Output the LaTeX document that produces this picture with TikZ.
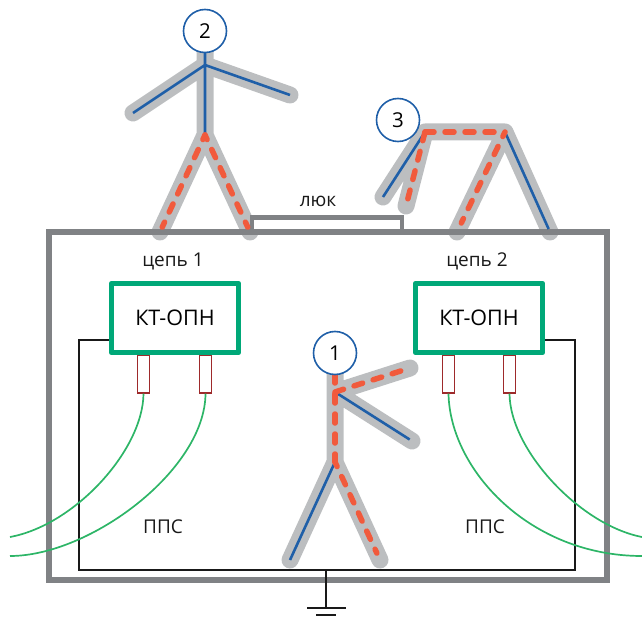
\documentclass[tikz,border=0pt]{standalone}
\usepackage{fontspec}
\usetikzlibrary{calc}
\setmainfont{Open Sans}
\definecolor{limbgrey}{HTML}{BCBEC0}
\definecolor{framegrey}{HTML}{808285}
\definecolor{wireblue}{HTML}{1F5FA8}
\definecolor{wirered}{HTML}{F15A3C}
\definecolor{boxgreen}{HTML}{00A878}
\definecolor{cablegreen}{HTML}{2DB567}
\definecolor{stubred}{HTML}{9E2A2B}
\tikzset{
  limb/.style={draw=limbgrey,line width=17pt,line cap=round,line join=round},
  bluewire/.style={draw=wireblue,line width=2.6pt},
  redwire/.style={draw=wirered,line width=5.5pt,line cap=round,dash pattern=on 9pt off 11pt},
  redleg/.style={redwire,dash phase=4pt},
  headcirc/.style={circle,draw=wireblue,fill=white,line width=1.6pt,minimum size=43pt,inner sep=0pt,font=\fontsize{20.5}{22}\selectfont},
  framebox/.style={draw=framegrey,line width=5.5pt,line join=miter},
  ktbox/.style={draw=boxgreen,line width=5.5pt,fill=white,minimum width=127pt,minimum height=69pt,inner sep=0pt,line join=round,font=\fontsize{21.5}{23}\selectfont},
  stub/.style={draw=stubred,fill=white,line width=1.7pt,minimum width=12pt,minimum height=38pt,inner sep=0pt},
  cable/.style={draw=cablegreen,line width=1.7pt},
  bond/.style={draw=black!90,line width=1.6pt},
  lab/.style={inner sep=0pt,font=\fontsize{19}{21}\selectfont,text=black!90}
}
\begin{document}
\begin{tikzpicture}[x=1pt,y=-1pt]
\useasboundingbox (0,0) rectangle (642,620);
% person coordinates
\coordinate (p2neck) at (205,50);
\coordinate (p2sh) at (205,65);
\coordinate (p2hip) at (205,135);
\coordinate (p2hl) at (133,113);
\coordinate (p2hr) at (290,95);
\coordinate (p2fl) at (160,232);
\coordinate (p2fr) at (250,232);
\coordinate (p3sh) at (425,132);
\coordinate (p3hip) at (505,132);
\coordinate (p3ha) at (383,197);
\coordinate (p3hb) at (406,206);
\coordinate (p3fa) at (457,232);
\coordinate (p3fb) at (550,232);
\coordinate (p1neck) at (335,374);
\coordinate (p1sh) at (335,392);
\coordinate (p1hip) at (335,462);
\coordinate (p1hu) at (410,368);
\coordinate (p1hd) at (412,441);
\coordinate (p1fl) at (290,560);
\coordinate (p1fr) at (380,560);
% grey bodies
\draw[limb] (p2neck)--(p2hip) (p2hl)--(p2sh)--(p2hr) (p2fl)--(p2hip)--(p2fr);
\draw[limb] (p3hb)--(p3sh)--(p3hip)--(p3fb) (p3ha)--(p3sh) (p3hip)--(p3fa);
\draw[limb] (p1neck)--(p1hip) (p1hu)--(p1sh)--(p1hd) (p1fl)--(p1hip)--(p1fr);
% frame and hatch
\coordinate (hl) at (252,229);
\coordinate (hr) at (402,229);
\coordinate (htl) at (252,217.5);
\coordinate (htr) at (402,217.5);
\draw[framebox] (49,232) rectangle (607,580);
\draw[draw=framegrey,line width=4.5pt,fill=white] (hl)--(htl)--(htr)--(hr);
% wires of persons
\draw[bluewire] (p2neck)--(p2hip) (p2hl)--(p2sh)--(p2hr);
\draw[redleg] (p2hip)--($(p2fl)!0.05!(p2hip)$);
\draw[redleg] (p2hip)--($(p2fr)!0.05!(p2hip)$);
\draw[bluewire] (p3sh)--(p3ha) (p3hip)--($(p3fb)!0.03!(p3hip)$);
\draw[redwire] (p3sh)--(p3hip);
\draw[redwire] (p3sh)--($(p3hb)!0.05!(p3sh)$);
\draw[redleg] (p3hip)--($(p3fa)!0.09!(p3hip)$);
\draw[bluewire] (p1sh)--($(p1hd)!0.03!(p1sh)$) (p1hip)--(p1fl);
\draw[redwire] (p1neck)--(p1hip);
\draw[redwire] (p1sh)--(p1hu);
\draw[redleg] (p1hip)--($(p1fr)!0.07!(p1hip)$);
% heads
\node[headcirc] (h2) at (205,31) {2};
\node[headcirc] (h3) at (398,120) {3};
\node[headcirc] (h1) at (335,353) {1};
% bonding conductor
\coordinate (bl1) at (79,340);
\coordinate (bl2) at (79,570);
\coordinate (br2) at (575,570);
\coordinate (br1) at (575,340);
\coordinate (gtop) at (326,570);
\coordinate (gbot) at (326,608);
\coordinate (gl) at (307,608);
\coordinate (gr) at (346,608);
\coordinate (gsl) at (316,615);
\coordinate (gsr) at (336,615);
% stubs
\node[stub,anchor=north] (s1) at (143.5,354) {};
\node[stub,anchor=north] (s2) at (205.5,354) {};
\node[stub,anchor=north] (s3) at (448.5,354) {};
\node[stub,anchor=north] (s4) at (509.5,354) {};
% boxes
\node[ktbox] (kt1) at (175,318) {КТ-ОПН};
\node[ktbox] (kt2) at (479,318) {КТ-ОПН};
\draw[bond] (kt1.west|-bl1)--(bl1)--(bl2)--(br2)--(br1)--(kt2.east|-br1);
\draw[bond] (gtop)--(gbot) (gl)--(gr) (gsl)--(gsr);
% cables
\coordinate (c1) at (10,537);
\coordinate (c2) at (10,556);
\coordinate (c3) at (642,556);
\coordinate (c4) at (642,537);
\draw[cable] (s1.south) .. controls (143,450) and (75,525) .. (c1);
\draw[cable] (s2.south) .. controls (205,470) and (90,556) .. (c2);
\draw[cable] (s3.south) .. controls (450,470) and (530,556) .. (c3);
\draw[cable] (s4.south) .. controls (510,450) and (580,525) .. (c4);
% labels
\node[lab] (luk) at (318,201) {люк};
\node[lab] (ch1) at (173,261) {цепь 1};
\node[lab] (ch2) at (477,261) {цепь 2};
\node[lab] (pps1) at (163,527) {ППС};
\node[lab] (pps2) at (485,527) {ППС};
\end{tikzpicture}
\end{document}
